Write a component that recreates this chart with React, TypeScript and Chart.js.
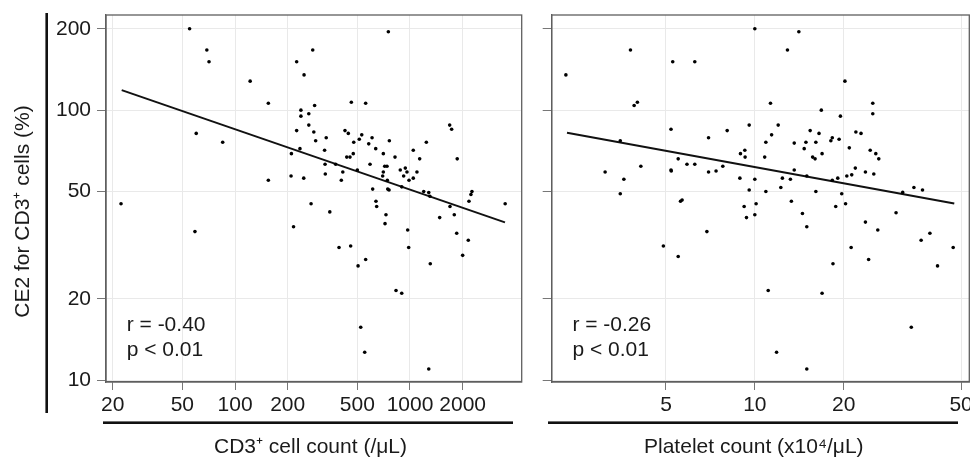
import React, { useEffect, useRef } from "react";
import { Chart, registerables } from "chart.js";
Chart.register(...registerables);

// ---------- data ----------
const yTicks = [10, 20, 50, 100, 200];
const cd3Ticks = [20, 50, 100, 200, 500, 1000, 2000];
const pltTicks = [5, 10, 20, 50];

const yTitle = "CE2 for CD3⁺ cells (%)";
const cd3Title = "CD3⁺ cell count (/μL)";
const pltTitle = "Platelet count (x10⁴/μL)";
const cd3Stats = ["r = -0.40", "p < 0.01"];
const pltStats = ["r = -0.26", "p < 0.01"];

const cd3X = [
  55, 69, 71, 122, 155, 60, 85, 155, 22.3, 225, 278, 248, 752, 238, 238, 264, 285, 264, 225, 282,
  289, 332, 235, 210, 325, 209, 247, 327, 328, 376, 405, 413, 462, 558, 425, 444, 477, 513, 530, 607,
  581, 637, 762, 435, 454, 474, 500, 591, 704, 717, 739, 704, 698, 742, 612, 746, 759, 639, 645, 729,
  348, 272, 821, 880, 920, 940, 961, 987, 1044, 1096, 1044, 1136, 1240, 897, 1198, 1280, 1300, 1686, 1730, 1862,
  1693, 1791, 2173, 2260, 2230, 3500, 1478, 720, 59, 216, 393, 458, 505, 558, 970, 983, 1306, 1849, 2154, 2000,
  832, 897, 523, 551, 1280,
];
const cd3Y = [
  200, 167, 151, 128, 106, 82, 76, 55, 45, 151, 167, 135, 195, 100, 95, 97, 104, 88, 84, 83,
  77, 79, 72, 69, 71, 57, 56, 63, 58, 63, 55, 59, 107, 106, 84, 82, 76, 78, 81, 79,
  75, 72, 77, 67, 67, 69, 60, 63, 69, 62, 62, 59, 57, 55, 51, 51, 50.6, 46, 44, 41,
  42, 45, 67, 60, 57, 61, 59, 55, 56, 59, 71, 66, 76, 52, 50, 49.5, 48, 88, 85, 66,
  44, 41, 46, 50, 48.7, 45, 40, 38, 35.5, 37, 31, 31.4, 26.5, 28, 36, 31, 27, 35, 33, 29,
  21.5, 21, 15.7, 12.7, 11,
];

const pltX = [
  2.29, 3.79, 5.27, 6.26, 10.0, 14.1, 12.9, 20.2, 3.9, 4.0, 11.3, 25.1, 25.1, 16.8, 19.5, 9.57, 12.0, 11.4, 5.2, 8.06,
  6.97, 3.5, 15.4, 16.5, 10.9, 13.6, 14.9, 16.1, 18.1, 18.3, 19.3, 22.0, 22.9, 14.7, 20.9, 8.94, 9.25, 9.27, 10.8, 15.7,
  16.0, 16.9, 24.6, 25.7, 26.3, 5.5, 3.11, 3.6, 4.11, 5.2, 5.21, 5.89, 6.26, 6.97, 7.39, 7.79, 8.9, 10.0, 9.57, 10.9,
  12.25, 12.4, 13.2, 13.6, 15.0, 16.1, 18.3, 19.1, 20.5, 21.3, 21.9, 23.7, 25.3, 19.7, 20.3, 18.8, 13.3, 10.1, 9.2, 10.0,
  9.37, 14.5, 3.5, 5.6, 5.67, 31.7, 34.6, 37.0, 30.1, 4.9, 5.5, 6.88, 15.0, 23.7, 26.1, 21.2, 24.3, 18.4, 36.6, 39.2,
  41.6, 47.0, 11.1, 16.9, 33.9, 11.85, 15.0,
];
const pltY = [
  135, 167, 151, 151, 200, 195, 167, 128, 104, 107, 106, 106, 97, 100, 95, 88, 88, 81, 85, 84,
  79, 77, 84, 82, 76, 75.5, 76, 76, 77, 79, 78, 83, 82, 72, 72.5, 69, 71, 67, 67, 67,
  66, 69, 71, 69, 66, 66, 59, 55.5, 62, 60, 59.5, 63, 63, 59, 59.5, 62, 56, 55.5, 50.6, 50,
  51.7, 56, 55.5, 60, 57, 50, 55, 56, 57, 57.6, 61, 59, 58, 49, 45, 44, 46, 45, 44, 41,
  40, 41.4, 49, 46, 46.5, 49.6, 51.7, 50.6, 41.7, 31.4, 28.7, 35.5, 37, 38.5, 36, 31, 28, 27, 33, 35,
  26.5, 31, 21.5, 21, 15.7, 12.7, 11,
];

const cd3LineX = [22.5, 3490];
const cd3LineY = [118.6, 38.4];
const pltLineX = [2.31, 47.4];
const pltLineY = [82.4, 45.1];

// ---------- styling ----------
const FAMILY = '"Liberation Sans", Arial, Helvetica, sans-serif';
const FSIZE = 21;
const FONT = `${FSIZE}px ${FAMILY}`;
const TXT = "#1a1a1a";
const GRID = "#e9e9e9";
const FRAME = "#5f5f5f";

type PanelOpts = {
  xs: number[];
  ys: number[];
  lx: number[];
  ly: number[];
  xTicks: number[];
  xMin: number;
  xMax: number;
  yAxisWidth: number;
  showYLabels: boolean;
  padRight: number;
  decor: {
    barL: number;
    barR: number;
    xTitle: string;
    xTitleX: number;
    stats: string[];
    yTitle?: string;
  };
};

function decorPlugin(o: PanelOpts["decor"]) {
  return {
    id: "decor",
    afterDraw(chart: any) {
      const { ctx, chartArea: a } = chart;
      ctx.save();
      ctx.strokeStyle = FRAME;
      ctx.lineWidth = 1.3;
      ctx.strokeRect(a.left, a.top, a.right - a.left, a.bottom - a.top);
      ctx.fillStyle = "#111";
      ctx.fillRect(a.left + o.barL, 421.4, a.right + o.barR - (a.left + o.barL), 2.6);
      ctx.font = FONT;
      ctx.fillStyle = TXT;
      ctx.textAlign = "center";
      ctx.textBaseline = "middle";
      ctx.fillText(o.xTitle, o.xTitleX, 447);
      ctx.textAlign = "left";
      ctx.textBaseline = "alphabetic";
      ctx.fillText(o.stats[0], a.left + 20.7, 330.5);
      ctx.fillText(o.stats[1], a.left + 20.7, 356);
      if (o.yTitle) {
        ctx.fillStyle = "#111";
        ctx.fillRect(45.4, 13, 2.6, 400);
        ctx.fillStyle = TXT;
        ctx.translate(23, 211.5);
        ctx.rotate(-Math.PI / 2);
        ctx.textAlign = "center";
        ctx.textBaseline = "middle";
        ctx.fillText(o.yTitle, 0, 0);
      }
      ctx.restore();
    },
  };
}

function makeConfig(p: PanelOpts): any {
  const font = { family: FAMILY, size: FSIZE };
  return {
    type: "scatter",
    data: {
      datasets: [
        {
          data: p.xs.map((x, i) => ({ x, y: p.ys[i] })),
          pointRadius: 1.8,
          pointBackgroundColor: "#000",
          pointBorderWidth: 0,
          showLine: false,
        },
        {
          data: p.lx.map((x, i) => ({ x, y: p.ly[i] })),
          showLine: true,
          borderColor: "#111",
          borderWidth: 2,
          pointRadius: 0,
        },
      ],
    },
    options: {
      animation: false,
      responsive: false,
      devicePixelRatio: 1,
      events: [],
      layout: { padding: { top: 15, right: p.padRight, left: 0, bottom: 0 } },
      plugins: { legend: { display: false }, tooltip: { enabled: false } },
      scales: {
        x: {
          type: "logarithmic",
          min: p.xMin,
          max: p.xMax,
          afterBuildTicks: (s: any) => {
            s.ticks = p.xTicks.map((v) => ({ value: v }));
          },
          afterFit: (s: any) => {
            s.height = 76;
            s.paddingLeft = 0;
            s.paddingRight = 0;
          },
          ticks: {
            callback: (v: any) => String(v),
            font,
            color: TXT,
            padding: 3,
            autoSkip: false,
            maxRotation: 0,
          },
          grid: { color: GRID, tickColor: "#777", tickLength: 8, lineWidth: 1 },
          border: { color: FRAME, width: 1.3 },
        },
        y: {
          type: "logarithmic",
          min: 9.85,
          max: 225,
          afterBuildTicks: (s: any) => {
            s.ticks = yTicks.map((v) => ({ value: v }));
          },
          afterFit: (s: any) => {
            s.width = p.yAxisWidth;
            s.paddingTop = 0;
            s.paddingBottom = 0;
          },
          ticks: {
            display: p.showYLabels,
            callback: (v: any) => String(v),
            font,
            color: TXT,
            padding: 6,
            autoSkip: false,
          },
          grid: { color: GRID, tickColor: "#777", tickLength: 9, lineWidth: 1 },
          border: { color: FRAME, width: 1.3 },
        },
      },
    },
    plugins: [decorPlugin(p.decor)],
  };
}

function Panel({ left, width, opts }: { left: number; width: number; opts: PanelOpts }) {
  const ref = useRef<HTMLCanvasElement | null>(null);
  useEffect(() => {
    if (!ref.current) return;
    const chart = new Chart(ref.current, makeConfig(opts));
    return () => chart.destroy();
  }, []);
  return (
    <canvas
      ref={ref}
      width={width}
      height={458}
      style={{ position: "absolute", left, top: 0, width, height: 458 }}
    />
  );
}

export default function App() {
  const leftOpts: PanelOpts = {
    xs: cd3X,
    ys: cd3Y,
    lx: cd3LineX,
    ly: cd3LineY,
    xTicks: cd3Ticks,
    xMin: 18.3,
    xMax: 4350,
    yAxisWidth: 106,
    showYLabels: true,
    padRight: 8.3,
    decor: { barL: -3, barR: -8.7, xTitle: cd3Title, xTitleX: 310.5, stats: cd3Stats, yTitle },
  };
  const rightOpts: PanelOpts = {
    xs: pltX,
    ys: pltY,
    lx: pltLineX,
    ly: pltLineY,
    xTicks: pltTicks,
    xMin: 2.05,
    xMax: 53.3,
    yAxisWidth: 21.7,
    showYLabels: false,
    padRight: 30.7,
    decor: { barL: -3.7, barR: -11.3, xTitle: pltTitle, xTitleX: 223.8, stats: pltStats },
  };
  return (
    <div
      style={{
        position: "fixed",
        left: 0,
        top: 0,
        width: 970,
        height: 458,
        overflow: "hidden",
        background: "#fff",
      }}
    >
      <Panel left={0} width={530} opts={leftOpts} />
      <Panel left={530} width={470} opts={rightOpts} />
    </div>
  );
}
